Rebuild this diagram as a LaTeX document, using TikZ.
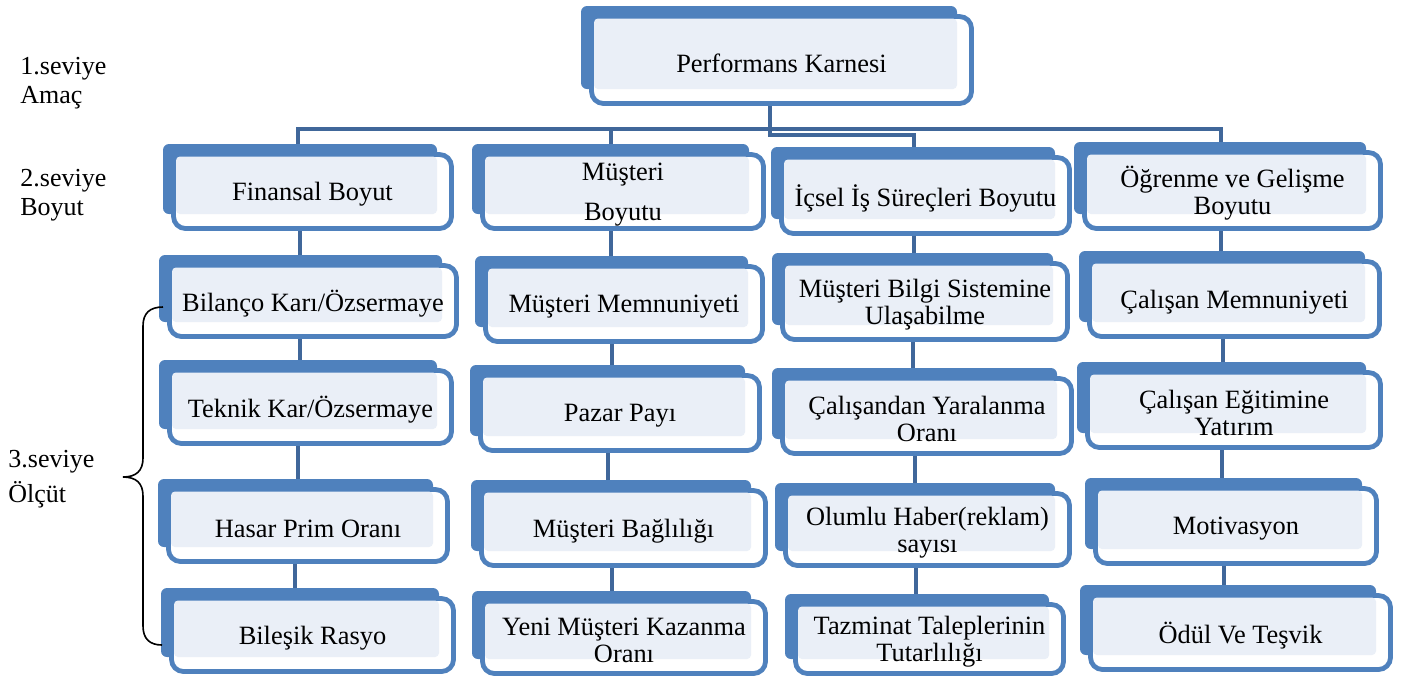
\documentclass[tikz,border=0pt]{standalone}
\usepackage{fontspec}
\setmainfont{Liberation Serif}
\usetikzlibrary{backgrounds,calc}
\definecolor{backblue}{RGB}{79,129,189}
\definecolor{lightfill}{RGB}{234,239,247}
\definecolor{connblue}{RGB}{64,103,154}
\tikzset{
  frontline/.style={draw=backblue,line width=2.4pt,fill=white,rounded corners=6pt},
  boxtext/.style={inner sep=0pt,align=center,font=\fontsize{13.2pt}{13.5pt}\selectfont},
  conn/.style={draw=connblue,line width=2pt},
  lvltext/.style={anchor=base west,align=left,inner sep=0pt,font=\fontsize{13pt}{14.5pt}\selectfont},
}
\newcommand\smartbox[6]{%
  \fill[backblue,rounded corners=3pt] (#2-8,#3-8) rectangle (#4-17,#5-17);
  \path[frontline] (#2+2.5,#3+2.5) rectangle (#4-2.5,#5-2.5);
  \fill[lightfill,rounded corners=2pt] (#2+5,#3+4.5) rectangle (#4-17,#5-17);
  \node[boxtext,minimum width={(#4-#2)*0.5pt},minimum height={(#5-#3)*0.5pt}] (#1) at ({(#2+#4)/2},{(#3+#5)/2}) {};
  \node[boxtext] at ({(#2+#4)/2},{(#3+#5)/2+3}) {#6};
}
\begin{document}
\begin{tikzpicture}[x=0.5pt,y=-0.5pt]
\useasboundingbox (0,0) rectangle (1403,677);
% top
\smartbox{pk}{589}{14}{974}{106}{Performans Karnesi}
% column 1
\smartbox{fin}{171}{152}{454}{231}{Finansal Boyut}
\smartbox{ca}{167}{263}{459}{339}{Bilanço Karı/Özsermaye}
\smartbox{cb}{167}{368}{454}{446}{Teknik Kar/Özsermaye}
\smartbox{cc}{166}{487}{450}{564}{Hasar Prim Oranı}
\smartbox{cd}{169}{596}{456}{674}{Bileşik Rasyo}
% column 2
\smartbox{mus}{480}{152}{766}{231}{Müşteri\\[6.5pt]Boyutu}
\smartbox{ma}{483}{264}{765}{344}{Müşteri Memnuniyeti}
\smartbox{mb}{478}{373}{762}{453}{Pazar Payı}
\smartbox{mc}{479}{488}{768}{568}{Müşteri Bağlılığı}
\smartbox{md}{480}{599}{768}{676}{Yeni Müşteri Kazanma\\Oranı}
% column 3
\smartbox{ics}{779}{155}{1072}{236}{İçsel İş Süreçleri Boyutu}
\smartbox{ia}{780}{261}{1070}{342}{Müşteri Bilgi Sistemine\\Ulaşabilme}
\smartbox{ib}{780}{376}{1074}{456}{Çalışandan Yaralanma\\Oranı}
\smartbox{ic}{783}{491}{1072}{568}{Olumlu Haber(reklam)\\sayısı}
\smartbox{id}{793}{602}{1066}{676}{Tazminat Taleplerinin\\Tutarlılığı}
% column 4
\smartbox{ogr}{1082}{150}{1383}{231}{Öğrenme ve Gelişme\\Boyutu}
\smartbox{oa}{1087}{259}{1382}{339}{Çalışan Memnuniyeti}
\smartbox{ob}{1085}{370}{1383}{450}{Çalışan Eğitimine\\Yatırım}
\smartbox{oc}{1093}{486}{1379}{566}{Motivasyon}
\smartbox{od}{1088}{593}{1393}{672}{Ödül Ve Teşvik}
% level labels
\node[lvltext] (l1) at (20,103) {1.seviye\\Amaç};
\node[lvltext] (l2) at (20,215) {2.seviye\\Boyut};
\node[lvltext,font=\fontsize{13pt}{17.5pt}\selectfont] (l3) at (8,502) {3.seviye\\Ölçüt};
% brace
\draw[line width=0.8pt] (163,307) .. controls (150,307) and (143,313) .. (143,326) -- (143,458)
  .. controls (143,471) and (136,477) .. (123,477)
  .. controls (136,477) and (143,483) .. (143,496) -- (143,626)
  .. controls (143,639) and (150,645) .. (162,645);
% connectors
\coordinate (barlevel) at (0,129);
\begin{pgfonlayer}{background}
\draw[conn] ([xshift=-6pt]pk.south) -- ++(0,29) -| ([xshift=-6pt]ics.north);
\draw[conn] ([xshift=-7.5pt]fin.north) |- ([xshift=-6pt]ogr.north |- barlevel) -- ([xshift=-6pt]ogr.north);
\draw[conn] ([xshift=-6pt]mus.north) -- ([xshift=-6pt]mus.north |- barlevel);
\foreach \a/\b in {fin/ca,ca/cb,cb/cc,cc/cd}{
  \draw[conn] ([xshift=-6.5pt]\a.south) -- ([xshift=-6.5pt]\a.south |- \b.north);
}
\foreach \a/\b in {mus/ma,ma/mb,mb/mc,mc/md}{
  \draw[conn] ([xshift=-6pt]\a.south) -- ([xshift=-6pt]\a.south |- \b.north);
}
\foreach \a/\b in {ics/ia,ia/ib,ib/ic,ic/id}{
  \draw[conn] ([xshift=-6pt]\a.south) -- ([xshift=-6pt]\a.south |- \b.north);
}
\foreach \a/\b in {ogr/oa,oa/ob,ob/oc,oc/od}{
  \draw[conn] ([xshift=-6pt]\a.south) -- ([xshift=-6pt]\a.south |- \b.north);
}
\end{pgfonlayer}
\end{tikzpicture}
\end{document}
